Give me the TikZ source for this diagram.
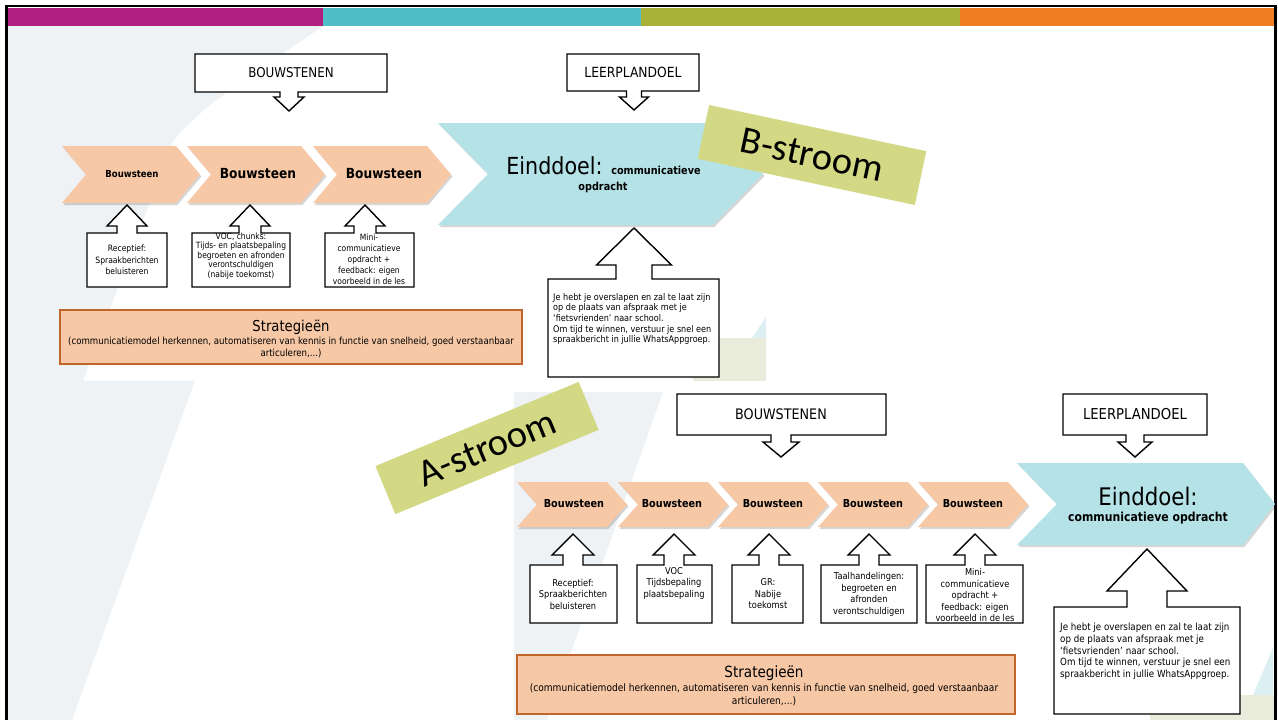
\documentclass[tikz,border=0pt]{standalone}
\usepackage{fontspec}
\setmainfont{DejaVu Sans}[FakeStretch=0.88]
\newfontfamily\tagfont{Carlito}
\definecolor{barmag}{HTML}{B01F80}
\definecolor{barteal}{HTML}{4FBEC7}
\definecolor{barolive}{HTML}{A8B038}
\definecolor{barorange}{HTML}{EE7D23}
\definecolor{bggray}{HTML}{EEF2F5}
\definecolor{peach}{HTML}{F7C8A6}
\definecolor{peachedge}{HTML}{C2652B}
\definecolor{goalblue}{HTML}{B5E2E7}
\definecolor{tagyellow}{HTML}{D3D884}
\definecolor{beige}{HTML}{E9EBDB}
\definecolor{paleblue}{HTML}{DCEFF2}
\tikzset{
  callout/.style={draw=black, line width=1.4pt, fill=white, line join=miter},
  chevshadow/.style={fill=black, opacity=0.16},
  stratbox/.style={fill=peach, draw=peachedge, line width=1.2pt},
  tagbox/.style={fill=tagyellow, inner sep=0pt, text=black},
  txt/.style={inner sep=0pt, align=center, text=black},
}
% down callout: x1 y1 x2 y2 cx stemhalf headhalf headbase tip
\newcommand\downcall[9]{\draw[callout] (#1,#2) -- (#3,#2) -- (#3,#4) -- ({#5+#6},#4) -- ({#5+#6},#8) -- ({#5+#7},#8) -- (#5,#9) -- ({#5-#7},#8) -- ({#5-#6},#8) -- ({#5-#6},#4) -- (#1,#4) -- cycle;}
% up callout
\newcommand\upcall[9]{\draw[callout] (#1,#2) -- ({#5-#6},#2) -- ({#5-#6},#8) -- ({#5-#7},#8) -- (#5,#9) -- ({#5+#7},#8) -- ({#5+#6},#8) -- ({#5+#6},#2) -- (#3,#2) -- (#3,#4) -- (#1,#4) -- cycle;}
% chevron: x y w h depth colour
\newcommand\chevr[6]{%
  \fill[chevshadow,shift={(1.5,2)}] (#1,#2) -- ({#1+#3-#5},#2) -- ({#1+#3},{#2+#4/2}) -- ({#1+#3-#5},{#2+#4}) -- (#1,{#2+#4}) -- ({#1+#5},{#2+#4/2}) -- cycle;
  \fill[#6] (#1,#2) -- ({#1+#3-#5},#2) -- ({#1+#3},{#2+#4/2}) -- ({#1+#3-#5},{#2+#4}) -- (#1,{#2+#4}) -- ({#1+#5},{#2+#4/2}) -- cycle;}
\begin{document}
\begin{tikzpicture}[x=1pt,y=-1pt]
\useasboundingbox (0,0) rectangle (1278,720);
\fill[white] (0,0) rectangle (1278,720);
% background decorations
\fill[bggray] (8,26) -- (323,26) .. controls (260,70) and (200,105) .. (172,143) -- (83,381) -- (8,381) -- cycle;
\fill[bggray] (8,380.5) -- (195,380.5) -- (72,720) -- (8,720) -- cycle;
\fill[bggray] (514,392) -- (663,392) -- (547,720) -- (514,720) -- cycle;
\fill[beige] (693,338) rectangle (766,381);
\fill[paleblue] (766,317) -- (766,338) -- (752,338) -- cycle;
\fill[beige] (1150,695) rectangle (1274,720);
\fill[paleblue] (1273,648) -- (1273,695) -- (1253,695) -- cycle;
% colour bar
\fill[barmag] (8,8) rectangle (323,26);
\fill[barteal] (323,8) rectangle (641,26);
\fill[barolive] (641,8) rectangle (960,26);
\fill[barorange] (960,8) rectangle (1274,26);
% frame
\draw[black, line width=2.6pt] (6.5,720) -- (6.5,6) -- (1275.5,6) -- (1275.5,720);

% ================= B-stroom (top) =================
\downcall{195}{54}{387}{92}{289}{9}{15}{97}{111}
\node[txt, font=\fontsize{13.5}{16}\selectfont] (bwtop) at (291,73) {BOUWSTENEN};
\downcall{567}{54}{699}{91}{634}{7.5}{14.5}{97}{110}
\node[txt, font=\fontsize{14}{16}\selectfont] (lptop) at (633,72) {LEERPLANDOEL};

\chevr{62}{146}{138}{57}{24}{peach}
\chevr{187}{146}{138}{57}{24}{peach}
\chevr{313}{146}{138}{57}{24}{peach}
\node[txt, font=\bfseries\fontsize{9.7}{12}\selectfont] (ta1) at (132,174) {Bouwsteen};
\node[txt, font=\bfseries\fontsize{13.9}{16}\selectfont] (ta2) at (258,174) {Bouwsteen};
\node[txt, font=\bfseries\fontsize{13.9}{16}\selectfont] (ta3) at (384,174) {Bouwsteen};

\fill[chevshadow,shift={(1.5,2)}] (438,123) -- (713,123) -- (763,174) -- (713,225) -- (438,225) -- (488,174) -- cycle;
\fill[goalblue] (438,123) -- (713,123) -- (763,174) -- (713,225) -- (438,225) -- (488,174) -- cycle;
\node[txt, anchor=base] (goaltop) at (603.5,174) {\fontsize{23.5}{26}\selectfont Einddoel: \bfseries\fontsize{11}{12}\selectfont communicatieve};
\node[txt, anchor=base, font=\bfseries\fontsize{11}{12}\selectfont] (goaltop2) at (603,190) {opdracht};

\node[tagbox, minimum width=222pt, minimum height=55pt, rotate=-12, font=\tagfont\fontsize{38.5}{40}\selectfont] (btag) at (812,155) {B-stroom};

\upcall{87}{233}{167}{287}{127}{10}{20}{226}{205}
\upcall{192}{233}{290}{287}{250}{11}{20}{226}{205}
\upcall{325}{233}{414}{287}{365}{11}{20}{226}{205}
\node[txt, font=\fontsize{8.7}{11.5}\selectfont] (tb1) at (127,260) {Receptief:\\Spraakberichten\\beluisteren};
\node[txt, font=\fontsize{8.6}{9.6}\selectfont] (tb2) at (241,256) {VOC, chunks:\\Tijds- en plaatsbepaling\\begroeten en afronden\\verontschuldigen\\(nabije toekomst)};
\node[txt, font=\fontsize{8.6}{11}\selectfont] (tb3) at (369,259.5) {Mini-\\communicatieve\\opdracht +\\feedback: eigen\\voorbeeld in de les};

\draw[stratbox] (60,310) rectangle (522,364);
\node[txt, font=\fontsize{15}{17}\selectfont] (strtop) at (291,327) {Strategieën};
\node[txt, font=\fontsize{9.8}{11.2}\selectfont] (strtop2) at (291,347.5) {(communicatiemodel herkennen, automatiseren van kennis in functie van snelheid, goed verstaanbaar\\articuleren,...)};

\upcall{548}{279}{719}{377}{634}{18}{37.5}{265}{228}
\node[txt, align=left, anchor=north west, font=\fontsize{9.2}{10.7}\selectfont] (casetop) at (553,293) {Je hebt je overslapen en zal te laat zijn\\op de plaats van afspraak met je\\‘fietsvrienden’ naar school.\\Om tijd te winnen, verstuur je snel een\\spraakbericht in jullie WhatsAppgroep.};

% ================= A-stroom (bottom) =================
\downcall{677}{394}{886}{435}{781}{10}{18}{442}{457}
\node[txt, font=\fontsize{14.5}{17}\selectfont] (bwbot) at (781,414) {BOUWSTENEN};
\downcall{1063}{394}{1207}{435}{1135}{9}{17}{442}{457}
\node[txt, font=\fontsize{15}{17}\selectfont] (lpbot) at (1135,414) {LEERPLANDOEL};

\chevr{517}{482}{110}{45}{20}{peach}
\chevr{618}{482}{110}{45}{20}{peach}
\chevr{718}{482}{110}{45}{20}{peach}
\chevr{818}{482}{110}{45}{20}{peach}
\chevr{918}{482}{110}{45}{20}{peach}
\node[txt, font=\bfseries\fontsize{11}{13}\selectfont] (tc1) at (574,504) {Bouwsteen};
\node[txt, font=\bfseries\fontsize{11}{13}\selectfont] (tc2) at (672,504) {Bouwsteen};
\node[txt, font=\bfseries\fontsize{11}{13}\selectfont] (tc3) at (773,504) {Bouwsteen};
\node[txt, font=\bfseries\fontsize{11}{13}\selectfont] (tc4) at (873,504) {Bouwsteen};
\node[txt, font=\bfseries\fontsize{11}{13}\selectfont] (tc5) at (973,504) {Bouwsteen};

\fill[chevshadow,shift={(1.5,2)}] (1017,463) -- (1243,463) -- (1275,504) -- (1243,545) -- (1017,545) -- (1057,504) -- cycle;
\fill[goalblue] (1017,463) -- (1243,463) -- (1275,504) -- (1243,545) -- (1017,545) -- (1057,504) -- cycle;
\node[txt, anchor=base, font=\fontsize{24.2}{27}\selectfont] (goalbot) at (1148,505) {Einddoel:};
\node[txt, anchor=base, font=\bfseries\fontsize{12.4}{14}\selectfont] (goalbot2) at (1148,521) {communicatieve opdracht};

\node[tagbox, minimum width=220pt, minimum height=52pt, rotate=22.5, font=\tagfont\fontsize{38.5}{40}\selectfont] (atag) at (487,448) {A-stroom};

\upcall{530}{565}{617}{623}{573}{10}{21}{555}{534}
\upcall{637}{565}{712}{623}{674}{10}{21}{555}{534}
\upcall{732}{565}{803}{623}{769}{10}{21}{555}{534}
\upcall{821}{565}{917}{623}{869}{10}{21}{555}{534}
\upcall{926}{565}{1023}{623}{975}{10}{21}{555}{534}
\node[txt, font=\fontsize{9.4}{11.5}\selectfont] (td1) at (573,594) {Receptief:\\Spraakberichten\\beluisteren};
\node[txt, font=\fontsize{9.4}{11.5}\selectfont] (td2) at (674,583) {VOC\\Tijdsbepaling\\plaatsbepaling};
\node[txt, font=\fontsize{9.4}{11.5}\selectfont] (td3) at (768,594) {GR:\\Nabije\\toekomst};
\node[txt, font=\fontsize{9.4}{11.5}\selectfont] (td4) at (869,594.5) {Taalhandelingen:\\begroeten en\\afronden\\verontschuldigen};
\node[txt, font=\fontsize{9.4}{11.5}\selectfont] (td5) at (975,595) {Mini-\\communicatieve\\opdracht +\\feedback: eigen\\voorbeeld in de les};

\draw[stratbox] (517,655) rectangle (1015,714);
\node[txt, font=\fontsize{15.4}{17}\selectfont] (strbot) at (764,673) {Strategieën};
\node[txt, font=\fontsize{10.3}{13.5}\selectfont] (strbot2) at (764,695) {(communicatiemodel herkennen, automatiseren van kennis in functie van snelheid, goed verstaanbaar\\articuleren,...)};

\upcall{1054}{607}{1240}{714}{1147}{20}{40}{591}{549}
\node[txt, align=left, anchor=north west, font=\fontsize{9.9}{11.7}\selectfont] (casebot) at (1060,623) {Je hebt je overslapen en zal te laat zijn\\op de plaats van afspraak met je\\‘fietsvrienden’ naar school.\\Om tijd te winnen, verstuur je snel een\\spraakbericht in jullie WhatsAppgroep.};
\end{tikzpicture}
\end{document}
